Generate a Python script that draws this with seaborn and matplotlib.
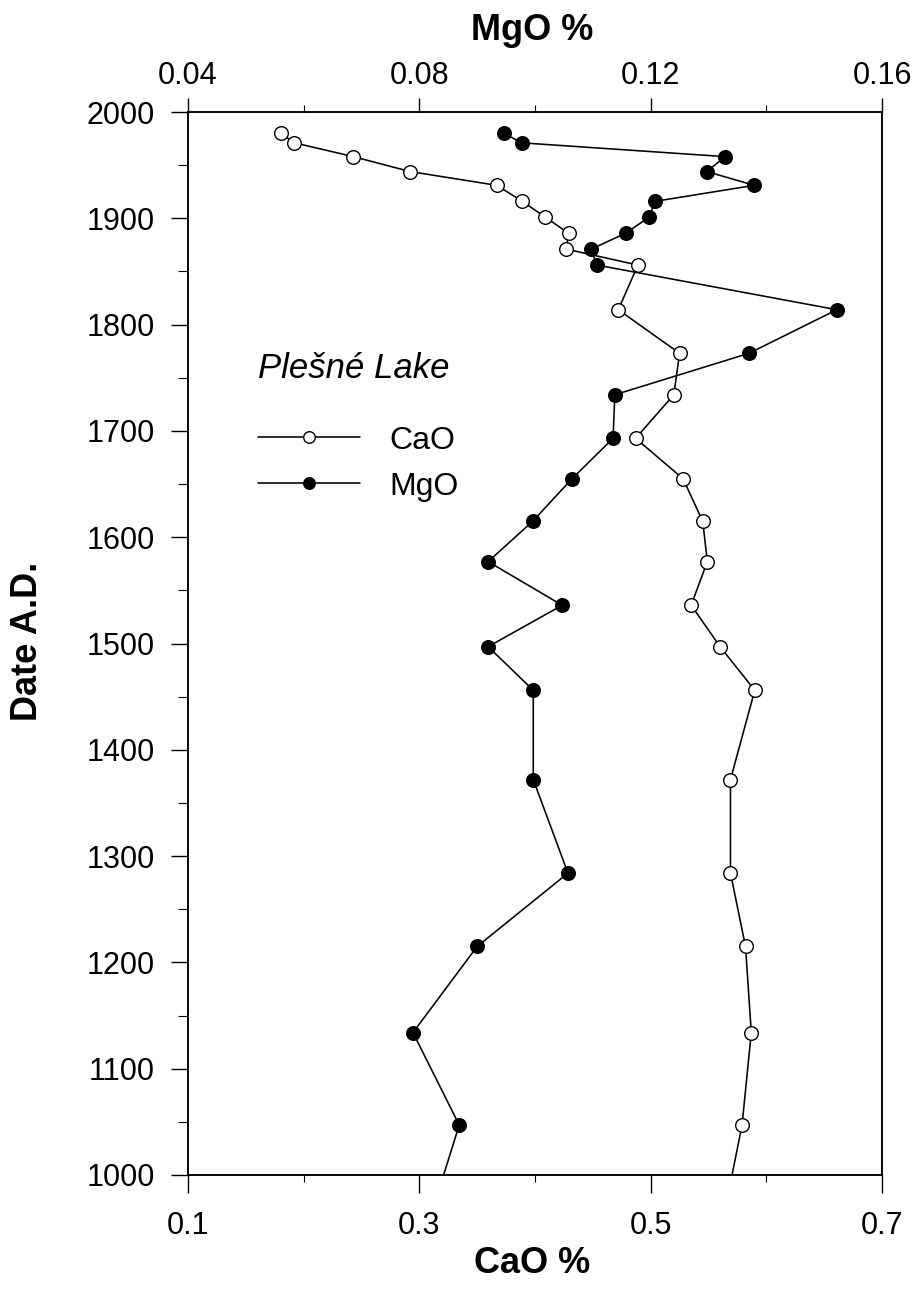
import matplotlib
matplotlib.use("Agg")
import matplotlib.pyplot as plt
from matplotlib.ticker import MultipleLocator
import pandas as pd
import seaborn as sns

# Sediment core record, Plešné Lake (date A.D., oxide content in %)
years = [1980, 1971, 1958, 1944, 1931, 1916, 1901, 1886, 1871, 1856,
         1814, 1773, 1734, 1693, 1655, 1615, 1577, 1536, 1497, 1456,
         1372, 1284, 1215, 1134, 1047, 960]
cao = [0.180, 0.192, 0.243, 0.292, 0.367, 0.389, 0.409, 0.429, 0.427, 0.489,
       0.472, 0.525, 0.520, 0.487, 0.528, 0.545, 0.549, 0.535, 0.560, 0.590,
       0.569, 0.569, 0.582, 0.587, 0.579, 0.563]
mgo = [0.0946, 0.0977, 0.1329, 0.1297, 0.1379, 0.1208, 0.1197, 0.1157, 0.1097, 0.1107,
       0.1522, 0.1370, 0.1138, 0.1135, 0.1064, 0.0996, 0.0919, 0.1047, 0.0919, 0.0997,
       0.0997, 0.1057, 0.0900, 0.0789, 0.0869, 0.0819]

cao_ticks = [0.1, 0.3, 0.5, 0.7]
mgo_ticks = [0.04, 0.08, 0.12, 0.16]
year_ticks = list(range(1000, 2001, 100))

df = pd.DataFrame({"Year": years, "CaO": cao, "MgO": mgo})

sns.set_theme(style="ticks")
plt.rcParams["font.family"] = ["Liberation Sans", "DejaVu Sans"]
plt.rcParams.update({
    "axes.edgecolor": "black",
    "axes.linewidth": 1.1,
    "text.color": "black",
    "axes.labelcolor": "black",
    "xtick.color": "black",
    "ytick.color": "black",
})

fig = plt.figure(figsize=(9.14, 12.89), dpi=100)
ax = fig.add_axes([188 / 914, 1 - 1175 / 1289, 694 / 914, 1063 / 1289])
ax2 = ax.twiny()

line_kw = dict(sort=False, estimator=None, color="black", linewidth=1.15,
               marker="o", markersize=9.8, markeredgecolor="black",
               markeredgewidth=1.0, legend=False)

sns.lineplot(data=df, x="CaO", y="Year", ax=ax, markerfacecolor="white",
             label="CaO", **line_kw)
sns.lineplot(data=df, x="MgO", y="Year", ax=ax2, markerfacecolor="black",
             label="MgO", **line_kw)

ax.set_ylim(1000, 2000)
ax.set_xlim(cao_ticks[0], cao_ticks[-1])
ax2.set_xlim(mgo_ticks[0], mgo_ticks[-1])

ax.set_xticks(cao_ticks)
ax.set_xticklabels([f"{t:g}" for t in cao_ticks])
ax.xaxis.set_minor_locator(MultipleLocator(0.1))
ax2.set_xticks(mgo_ticks)
ax2.set_xticklabels([f"{t:g}" for t in mgo_ticks])
ax2.xaxis.set_minor_locator(MultipleLocator(0.02))
ax.set_yticks(year_ticks)
ax.yaxis.set_minor_locator(MultipleLocator(50))

ax.tick_params(axis="x", which="major", direction="out", length=13, width=1.0,
               labelsize=22, pad=13)
ax.tick_params(axis="x", which="minor", direction="out", length=5, width=0.8)
ax2.tick_params(axis="x", which="major", direction="out", length=10, width=1.0,
                labelsize=22, pad=5)
ax2.tick_params(axis="x", which="minor", direction="out", length=5, width=0.8)
ax.tick_params(axis="y", which="major", direction="out", length=12, width=1.0,
               labelsize=22, pad=12, right=False)
ax.tick_params(axis="y", which="minor", direction="out", length=7, width=0.8,
               right=False)

for a in (ax, ax2):
    for s in a.spines.values():
        s.set_visible(True)
        s.set_color("black")
        s.set_linewidth(1.1)

ax.set_xlabel("CaO %", fontsize=26, fontweight="bold")
ax.xaxis.set_label_coords(0.496, -0.067)
ax2.set_xlabel("MgO %", fontsize=26, fontweight="bold")
ax2.xaxis.set_label_coords(0.496, 1.068)
ax.set_ylabel("Date A.D.", fontsize=26, fontweight="bold")
ax.yaxis.set_label_coords(-0.206, 0.502)

ax.text(0.101, 0.750, "Plešné Lake", transform=ax.transAxes, fontsize=25,
        style="italic", ha="left", va="baseline")

handles = [ax.lines[0], ax2.lines[0]]
ax2.legend(handles, ["CaO", "MgO"], loc="upper left",
           bbox_to_anchor=(0.101, 0.705), bbox_transform=ax.transAxes,
           frameon=False, fontsize=23, numpoints=1, markerscale=0.85,
           handlelength=3.2, handletextpad=0.9, labelspacing=0.5,
           borderpad=0, borderaxespad=0)

fig.savefig("out.png", dpi=100, facecolor="white")
